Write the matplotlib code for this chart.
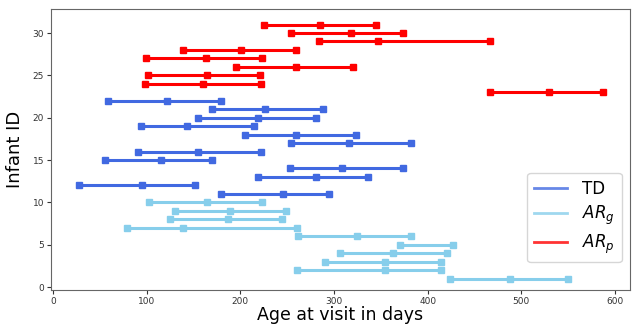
import matplotlib
matplotlib.use("Agg")
import matplotlib.pyplot as plt
from matplotlib.lines import Line2D

# Data: each infant row -> visit ages (days)
td_ids = [22, 21, 20, 19, 18, 17, 16, 15, 14, 13, 12, 11]
td_visits = [
    [59, 122, 179],
    [170, 226, 288],
    [155, 219, 281],
    [94, 143, 215],
    [205, 260, 324],
    [254, 316, 382],
    [91, 155, 222],
    [56, 115, 170],
    [253, 309, 374],
    [219, 281, 336],
    [28, 95, 152],
    [179, 246, 295],
]

arg_ids = [10, 9, 8, 7, 6, 5, 4, 3, 2, 1]
arg_visits = [
    [103, 165, 223],
    [130, 189, 249],
    [125, 187, 245],
    [79, 139, 261],
    [262, 325, 382],
    [371, 427],
    [306, 363, 421],
    [291, 354, 414],
    [261, 354, 414],
    [424, 488, 550],
]

arp_ids = [31, 30, 29, 28, 27, 26, 25, 24, 23]
arp_visits = [
    [225, 285, 345],
    [254, 318, 374],
    [284, 347, 467],
    [139, 201, 259],
    [99, 163, 223],
    [196, 259, 320],
    [102, 164, 221],
    [98, 160, 222],
    [467, 530, 587],
]

groups = [
    ("TD", td_ids, td_visits, "royalblue"),
    ("$AR_g$", arg_ids, arg_visits, "skyblue"),
    ("$AR_p$", arp_ids, arp_visits, "red"),
]

fig = plt.figure(figsize=(6.34, 3.28), dpi=100)
ax = fig.add_axes([0.0804, 0.1159, 0.9133, 0.8557])

for label, ids, visits, color in groups:
    for iid, v in zip(ids, visits):
        ax.plot(v, [iid] * len(v), color=color, lw=2.2, marker="s",
                markersize=5, solid_capstyle="butt")

ax.set_xlim(-2, 616)
ax.set_ylim(-0.35, 32.8)
ax.set_xticks([0, 100, 200, 300, 400, 500, 600])
ax.set_yticks([0, 5, 10, 15, 20, 25, 30])
ax.tick_params(labelsize=6.5, length=3, pad=2, colors="#333333", labelcolor="#333333")
for s in ax.spines.values():
    s.set_color("#666666")

ax.set_xlabel("Age at visit in days", fontsize=12.5, labelpad=0)
ax.set_ylabel("Infant ID", fontsize=13, labelpad=6)

handles = [Line2D([0], [0], color=c, lw=2, alpha=0.8) for _, _, _, c in groups]
labels = [g[0] for g in groups]
ax.legend(handles, labels, loc="lower right", fontsize=12,
          bbox_to_anchor=(1.0, 0.069), handlelength=2.0,
          labelspacing=0.35, borderpad=0.4, handletextpad=0.9)

fig.savefig("out.png", dpi=100)
